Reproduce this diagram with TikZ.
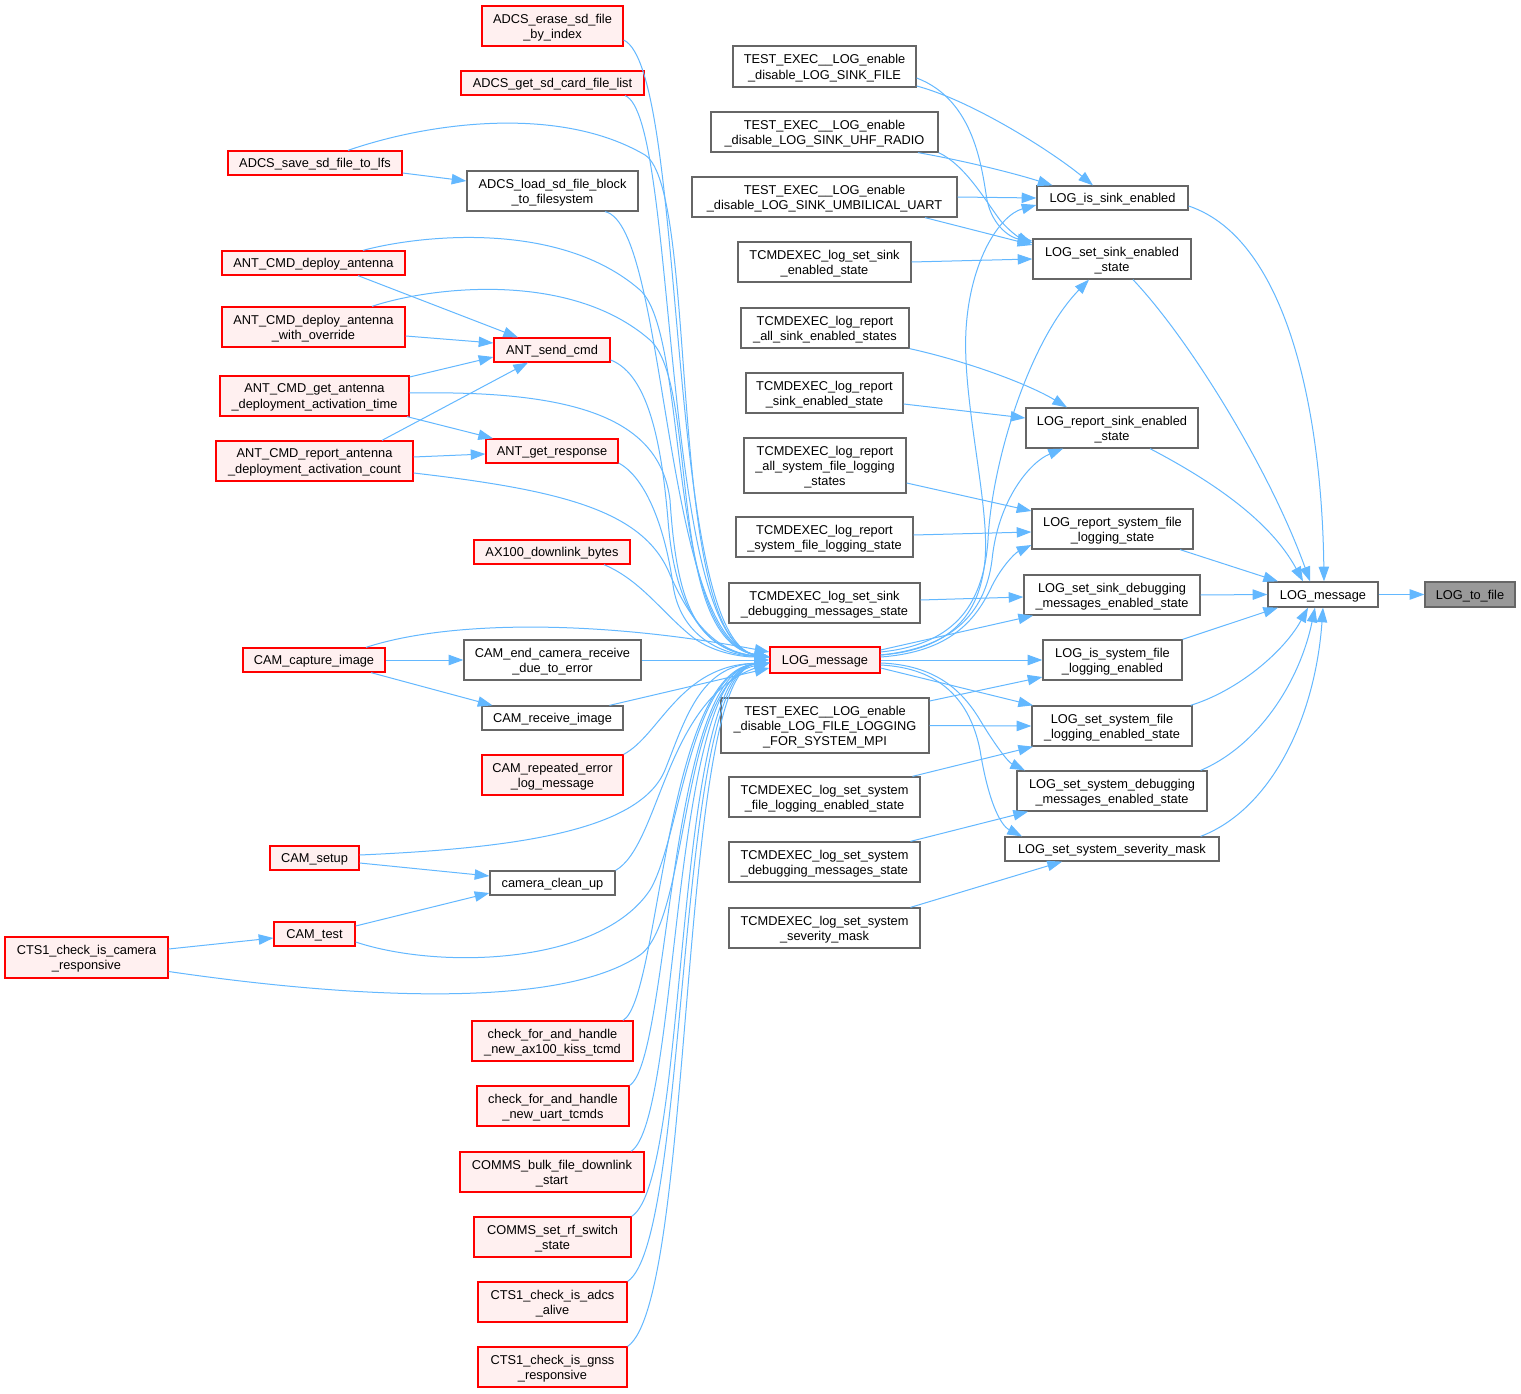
\documentclass[tikz,border=0pt]{standalone}
\usepackage{fontspec}
\setmainfont{Liberation Sans}
\usetikzlibrary{arrows.meta}
\definecolor{edgeblue}{HTML}{63B8FF}
\definecolor{redfill}{HTML}{FFF0F0}
\definecolor{grayb}{HTML}{666666}
\definecolor{rootfill}{HTML}{999999}
\tikzset{
  fnbase/.style={rectangle, inner sep=0pt, line width=0.95pt},
  fntext/.style={inner sep=0pt, align=center, font=\fontsize{9.6}{11.5}\selectfont},
  fnred/.style={fnbase, draw=red, fill=redfill},
  fnblk/.style={fnbase, draw=grayb, fill=white},
  fnroot/.style={fnbase, draw=grayb, fill=rootfill},
  e/.style={draw=edgeblue, line width=0.75pt, -{Triangle[length=11pt,width=7.8pt]}},
}
\newcommand\fnbox[7]{\node[#6, minimum width={(#4-#2)*0.75pt}, minimum height={(#5-#3)*0.75pt}] (#1) at ({(#2+#4)/2},{(#3+#5)/2}) {};
\node[fntext] (#1-t) at ([shift={(0,1.5)}]#1.center) {#7};}
\begin{document}
\begin{tikzpicture}[x=0.75pt,y=-0.75pt]
\fill[white] (0,0) rectangle (1521,1394);
\useasboundingbox (0,0) rectangle (1521,1394);
% ---- left columns
\fnbox{erase}{482}{6}{623}{46}{fnred}{ADCS\_erase\_sd\_file\\\_by\_index}
\fnbox{getlist}{461}{71}{644}{95}{fnred}{ADCS\_get\_sd\_card\_file\_list}
\fnbox{save}{228}{151}{402}{175}{fnred}{ADCS\_save\_sd\_file\_to\_lfs}
\fnbox{load}{467}{171}{638}{211}{fnblk}{ADCS\_load\_sd\_file\_block\\\_to\_filesystem}
\fnbox{deploy}{222}{251}{405}{275}{fnred}{ANT\_CMD\_deploy\_antenna}
\fnbox{deployov}{222}{307}{405}{347}{fnred}{ANT\_CMD\_deploy\_antenna\\\_with\_override}
\fnbox{gettime}{220}{376}{409}{416}{fnred}{ANT\_CMD\_get\_antenna\\\_deployment\_activation\_time}
\fnbox{repcount}{216}{441}{413}{481}{fnred}{ANT\_CMD\_report\_antenna\\\_deployment\_activation\_count}
\fnbox{sendcmd}{494}{338}{610}{362}{fnred}{ANT\_send\_cmd}
\fnbox{getresp}{486}{439}{618}{463}{fnred}{ANT\_get\_response}
\fnbox{ax100}{474}{540}{630}{564}{fnred}{AX100\_downlink\_bytes}
\fnbox{capture}{243}{648}{385}{672}{fnred}{CAM\_capture\_image}
\fnbox{endcam}{464}{640}{641}{680}{fnblk}{CAM\_end\_camera\_receive\\\_due\_to\_error}
\fnbox{recv}{482}{706}{623}{730}{fnblk}{CAM\_receive\_image}
\fnbox{repeated}{482}{755}{623}{795}{fnred}{CAM\_repeated\_error\\\_log\_message}
\fnbox{setup}{270}{846}{359}{870}{fnred}{CAM\_setup}
\fnbox{cleanup}{490}{871}{615}{895}{fnblk}{camera\_clean\_up}
\fnbox{camtest}{274}{922}{355}{946}{fnred}{CAM\_test}
\fnbox{ctscam}{5}{937}{168}{978}{fnred}{CTS1\_check\_is\_camera\\\_responsive}
\fnbox{kiss}{472}{1021}{633}{1061}{fnred}{check\_for\_and\_handle\\\_new\_ax100\_kiss\_tcmd}
\fnbox{uart}{477}{1086}{629}{1126}{fnred}{check\_for\_and\_handle\\\_new\_uart\_tcmds}
\fnbox{bulk}{460}{1152}{644}{1192}{fnred}{COMMS\_bulk\_file\_downlink\\\_start}
\fnbox{rfsw}{474}{1217}{631}{1257}{fnred}{COMMS\_set\_rf\_switch\\\_state}
\fnbox{adcsalive}{478}{1282}{627}{1322}{fnred}{CTS1\_check\_is\_adcs\\\_alive}
\fnbox{gnss}{478}{1347}{627}{1387}{fnred}{CTS1\_check\_is\_gnss\\\_responsive}
\fnbox{logmsgr}{770}{647}{880}{673}{fnred}{LOG\_message}
% ---- column 5
\fnbox{tfile}{733}{46}{916}{87}{fnblk}{TEST\_EXEC\_\_LOG\_enable\\\_disable\_LOG\_SINK\_FILE}
\fnbox{tuhf}{711}{112}{938}{152}{fnblk}{TEST\_EXEC\_\_LOG\_enable\\\_disable\_LOG\_SINK\_UHF\_RADIO}
\fnbox{tuart}{692}{177}{957}{217}{fnblk}{TEST\_EXEC\_\_LOG\_enable\\\_disable\_LOG\_SINK\_UMBILICAL\_UART}
\fnbox{tsetsink}{738}{242}{911}{282}{fnblk}{TCMDEXEC\_log\_set\_sink\\\_enabled\_state}
\fnbox{trepall}{741}{308}{909}{348}{fnblk}{TCMDEXEC\_log\_report\\\_all\_sink\_enabled\_states}
\fnbox{trepsink}{746}{373}{903}{413}{fnblk}{TCMDEXEC\_log\_report\\\_sink\_enabled\_state}
\fnbox{trepallsys}{744}{438}{906}{493}{fnblk}{TCMDEXEC\_log\_report\\\_all\_system\_file\_logging\\\_states}
\fnbox{trepsys}{736}{517}{913}{557}{fnblk}{TCMDEXEC\_log\_report\\\_system\_file\_logging\_state}
\fnbox{tsetdbg}{729}{583}{920}{623}{fnblk}{TCMDEXEC\_log\_set\_sink\\\_debugging\_messages\_state}
\fnbox{tfilelog}{721}{698}{929}{753}{fnblk}{TEST\_EXEC\_\_LOG\_enable\\\_disable\_LOG\_FILE\_LOGGING\\\_FOR\_SYSTEM\_MPI}
\fnbox{tsetsysfile}{729}{777}{920}{817}{fnblk}{TCMDEXEC\_log\_set\_system\\\_file\_logging\_enabled\_state}
\fnbox{tsetsysdbg}{729}{842}{920}{882}{fnblk}{TCMDEXEC\_log\_set\_system\\\_debugging\_messages\_state}
\fnbox{tsetmask}{729}{908}{920}{948}{fnblk}{TCMDEXEC\_log\_set\_system\\\_severity\_mask}
% ---- column 6
\fnbox{issink}{1037}{186}{1188}{210}{fnblk}{LOG\_is\_sink\_enabled}
\fnbox{setsink}{1033}{239}{1191}{279}{fnblk}{LOG\_set\_sink\_enabled\\\_state}
\fnbox{repsink}{1026}{408}{1198}{448}{fnblk}{LOG\_report\_sink\_enabled\\\_state}
\fnbox{repsys}{1032}{509}{1193}{549}{fnblk}{LOG\_report\_system\_file\\\_logging\_state}
\fnbox{setdbg}{1024}{575}{1200}{615}{fnblk}{LOG\_set\_sink\_debugging\\\_messages\_enabled\_state}
\fnbox{issys}{1043}{640}{1182}{680}{fnblk}{LOG\_is\_system\_file\\\_logging\_enabled}
\fnbox{setsysfile}{1032}{706}{1192}{746}{fnblk}{LOG\_set\_system\_file\\\_logging\_enabled\_state}
\fnbox{setsysdbg}{1017}{771}{1207}{811}{fnblk}{LOG\_set\_system\_debugging\\\_messages\_enabled\_state}
\fnbox{setmask}{1005}{837}{1219}{861}{fnblk}{LOG\_set\_system\_severity\_mask}
% ---- right
\fnbox{logmsg}{1268}{582}{1378}{607}{fnblk}{LOG\_message}
\fnbox{tofile}{1425}{582}{1515}{607}{fnroot}{LOG\_to\_file}

% ===== edges into red LOG_message from above
\draw[e] ([shift={(0,14)}]erase.east) .. controls (688,70) and (664,640) .. ([shift={(0,-3)}]logmsgr.west);
\draw[e] ([shift={(72.5,0)}]getlist.south) .. controls (678,115) and (660,640) .. ([shift={(0,-3)}]logmsgr.west);
\draw[e] ([shift={(33,0)}]save.north) .. controls (430,122) and (560,105) .. (645,155) .. controls (700,190) and (665,640) .. ([shift={(0,-3)}]logmsgr.west);
\draw[e] ([shift={(0,10)}]save.east) -- ([shift={(0,-10)}]load.west);
\draw[e] ([shift={(52.5,0)}]load.south) .. controls (668,225) and (662,640) .. ([shift={(0,-3)}]logmsgr.west);
\draw[e] ([shift={(49.5,0)}]deploy.north) .. controls (420,235) and (560,220) .. (640,290) .. controls (690,335) and (665,640) .. ([shift={(0,-3)}]logmsgr.west);
\draw[e] ([shift={(58.5,0)}]deployov.north) .. controls (430,287) and (570,270) .. (650,340) .. controls (700,385) and (665,640) .. ([shift={(0,-3)}]logmsgr.west);
\draw[e] ([shift={(44.5,0)}]deploy.south) -- ([shift={(-34,0)}]sendcmd.north);
\draw[e] ([shift={(0,9)}]deployov.east) -- ([shift={(0,-7)}]sendcmd.west);
\draw[e] ([shift={(0,-19)}]gettime.east) -- ([shift={(0,7)}]sendcmd.west);
\draw[e] ([shift={(0,-3)}]gettime.east) .. controls (580,390) and (660,420) .. (670,500) .. controls (676,590) and (690,650) .. ([shift={(0,-3)}]logmsgr.west);
\draw[e] ([shift={(92.5,0)}]gettime.south) -- ([shift={(-59,0)}]getresp.north);
\draw[e] ([shift={(67.5,0)}]repcount.north) -- ([shift={(-24,0)}]sendcmd.south);
\draw[e] ([shift={(0,-4)}]repcount.east) -- ([shift={(0,3)}]getresp.west);
\draw[e] ([shift={(0,12)}]repcount.east) .. controls (560,490) and (640,510) .. (668,570) .. controls (685,610) and (710,652) .. ([shift={(0,-3)}]logmsgr.west);
\draw[e] ([shift={(0,10)}]sendcmd.east) .. controls (650,375) and (662,450) .. (668,520) .. controls (674,600) and (700,652) .. ([shift={(0,-3)}]logmsgr.west);
\draw[e] ([shift={(0,12)}]getresp.east) .. controls (650,480) and (667,540) .. (673,585) .. controls (680,635) and (720,655) .. ([shift={(0,-3)}]logmsgr.west);
\draw[e] ([shift={(52,0)}]ax100.south) .. controls (640,580) and (660,610) .. (690,635) .. controls (710,652) and (740,657) .. ([shift={(0,-3)}]logmsgr.west);
\draw[e] ([shift={(52,0)}]capture.north) .. controls (450,620) and (600,620) .. ([shift={(0,-8)}]logmsgr.west);
\draw[e] (capture.east) -- (endcam.west);
\draw[e] ([shift={(57,0)}]capture.south) -- ([shift={(-60,0)}]recv.north);
\draw[e] (endcam.east) -- (logmsgr.west);
\draw[e] ([shift={(57,0)}]recv.north) -- ([shift={(0,8)}]logmsgr.west);
% ===== edges into red LOG_message from below
\draw[e] (repeated.north east) .. controls (660,735) and (680,665) .. ([shift={(0,3)}]logmsgr.west);
\draw[e] ([shift={(0,-3)}]setup.east) .. controls (520,848) and (640,830) .. (665,770) .. controls (685,720) and (700,665) .. ([shift={(0,3)}]logmsgr.west);
\draw[e] ([shift={(0,5)}]setup.east) -- ([shift={(0,-7)}]cleanup.west);
\draw[e] (cleanup.north east) .. controls (660,845) and (665,700) .. ([shift={(0,3)}]logmsgr.west);
\draw[e] ([shift={(0,-8)}]camtest.east) -- ([shift={(0,10)}]cleanup.west);
\draw[e] ([shift={(0,8)}]camtest.east) .. controls (440,970) and (600,965) .. (650,890) .. controls (680,840) and (690,670) .. ([shift={(0,3)}]logmsgr.west);
\draw[e] ([shift={(0,-8.5)}]ctscam.east) -- ([shift={(0,4)}]camtest.west);
\draw[e] ([shift={(0,14)}]ctscam.east) .. controls (350,998) and (560,1010) .. (640,955) .. controls (690,920) and (680,680) .. ([shift={(0,3)}]logmsgr.west);
\draw[e] ([shift={(70.5,0)}]kiss.north) .. controls (660,1000) and (665,670) .. ([shift={(0,3)}]logmsgr.west);
\draw[e] (uart.north east) .. controls (670,1060) and (668,670) .. ([shift={(0,3)}]logmsgr.west);
\draw[e] ([shift={(79,0)}]bulk.north) .. controls (680,1120) and (670,670) .. ([shift={(0,3)}]logmsgr.west);
\draw[e] (rfsw.north east) .. controls (690,1180) and (672,670) .. ([shift={(0,3)}]logmsgr.west);
\draw[e] (adcsalive.north east) .. controls (690,1240) and (675,670) .. ([shift={(0,3)}]logmsgr.west);
\draw[e] (gnss.north east) .. controls (695,1300) and (678,670) .. ([shift={(0,3)}]logmsgr.west);
% ===== red LOG_message to column 6
\draw[e] ([shift={(0,-5)}]logmsgr.east) .. controls (950,650) and (980,615) .. (985,560) .. controls (990,505) and (962,400) .. (966,330) .. controls (970,260) and (1000,215) .. ([shift={(0,7)}]issink.west);
\draw[e] ([shift={(0,-8)}]logmsgr.east) .. controls (950,645) and (983,610) .. (988,540) .. controls (992,460) and (1030,340) .. ([shift={(-23,0)}]setsink.south);
\draw[e] ([shift={(0,-5)}]logmsgr.east) .. controls (950,648) and (985,615) .. (992,560) .. controls (998,500) and (1030,462) .. ([shift={(-49,0)}]repsink.south);
\draw[e] ([shift={(0,-3)}]logmsgr.east) .. controls (950,652) and (975,620) .. (990,590) .. controls (1000,568) and (1015,553) .. ([shift={(0,16)}]repsys.west);
\draw[e] ([shift={(0,-10)}]logmsgr.east) -- ([shift={(-79,0)}]setdbg.south);
\draw[e] (logmsgr.east) -- (issys.west);
\draw[e] ([shift={(0,8)}]logmsgr.east) -- ([shift={(-79,0)}]setsysfile.north);
\draw[e] ([shift={(0,3)}]logmsgr.east) .. controls (935,665) and (962,690) .. (980,720) .. controls (995,745) and (1008,762) .. ([shift={(-87,0)}]setsysdbg.north);
\draw[e] ([shift={(0,5)}]logmsgr.east) .. controls (940,668) and (970,700) .. (980,750) .. controls (988,800) and (1000,825) .. ([shift={(-90,0)}]setmask.north);
% ===== column 5 to column 6
\draw[e] ([shift={(0,19.5)}]tfile.east) .. controls (970,100) and (1050,150) .. ([shift={(-19.5,0)}]issink.north);
\draw[e] ([shift={(0,11.5)}]tfile.east) .. controls (975,100) and (982,170) .. (987,200) .. controls (993,228) and (1012,238) .. ([shift={(0,-18)}]setsink.west);
\draw[e] ([shift={(93.5,0)}]tuhf.south) .. controls (960,160) and (1010,172) .. ([shift={(-60,0)}]issink.north);
\draw[e] (tuhf.south east) .. controls (965,165) and (985,200) .. (1000,220) .. controls (1010,232) and (1020,238) .. ([shift={(0,-16)}]setsink.west);
\draw[e] (tuart.east) -- (issink.west);
\draw[e] ([shift={(100.5,0)}]tuart.south) -- ([shift={(0,-14)}]setsink.west);
\draw[e] (tsetsink.east) -- (setsink.west);
\draw[e] (trepall.south east) .. controls (970,362) and (1030,385) .. ([shift={(-45,0)}]repsink.north);
\draw[e] ([shift={(0,11)}]trepsink.east) -- ([shift={(0,-10)}]repsink.west);
\draw[e] ([shift={(0,17.5)}]trepallsys.east) -- ([shift={(0,-18)}]repsys.west);
\draw[e] ([shift={(0,-2)}]trepsys.east) -- ([shift={(0,3)}]repsys.west);
\draw[e] ([shift={(0,-3)}]tsetdbg.east) -- ([shift={(0,2)}]setdbg.west);
\draw[e] ([shift={(0,-24.5)}]tfilelog.east) -- ([shift={(0,17)}]issys.west);
\draw[e] (tfilelog.east) -- (setsysfile.west);
\draw[e] ([shift={(88,0)}]tsetsysfile.north) -- ([shift={(-79,0)}]setsysfile.south);
\draw[e] ([shift={(86,0)}]tsetsysdbg.north) -- ([shift={(-84,0)}]setsysdbg.south);
\draw[e] ([shift={(86,0)}]tsetmask.north) -- ([shift={(-50,0)}]setmask.south);
% ===== column 6 to LOG_message
\draw[e] ([shift={(0,8)}]issink.east) .. controls (1290,240) and (1322,420) .. ([shift={(1,0)}]logmsg.north);
\draw[e] ([shift={(21,0)}]setsink.south) .. controls (1190,340) and (1270,470) .. ([shift={(-13,0)}]logmsg.north);
\draw[e] ([shift={(38,0)}]repsink.south) .. controls (1210,480) and (1270,520) .. ([shift={(-20,0)}]logmsg.north);
\draw[e] ([shift={(67.5,0)}]repsys.south) -- ([shift={(-45,0)}]logmsg.north);
\draw[e] (setdbg.east) -- (logmsg.west);
\draw[e] (issys.north east) -- ([shift={(-45,0)}]logmsg.south);
\draw[e] ([shift={(-2,0)}]setsysfile.north east) .. controls (1240,690) and (1285,650) .. ([shift={(-15,0)}]logmsg.south);
\draw[e] ([shift={(-7,0)}]setsysdbg.north east) .. controls (1260,745) and (1300,680) .. ([shift={(-8,0)}]logmsg.south);
\draw[e] ([shift={(-19,0)}]setmask.north east) .. controls (1270,810) and (1315,720) .. ([shift={(0,0)}]logmsg.south);
\draw[e] (logmsg.east) -- (tofile.west);
\end{tikzpicture}
\end{document}
